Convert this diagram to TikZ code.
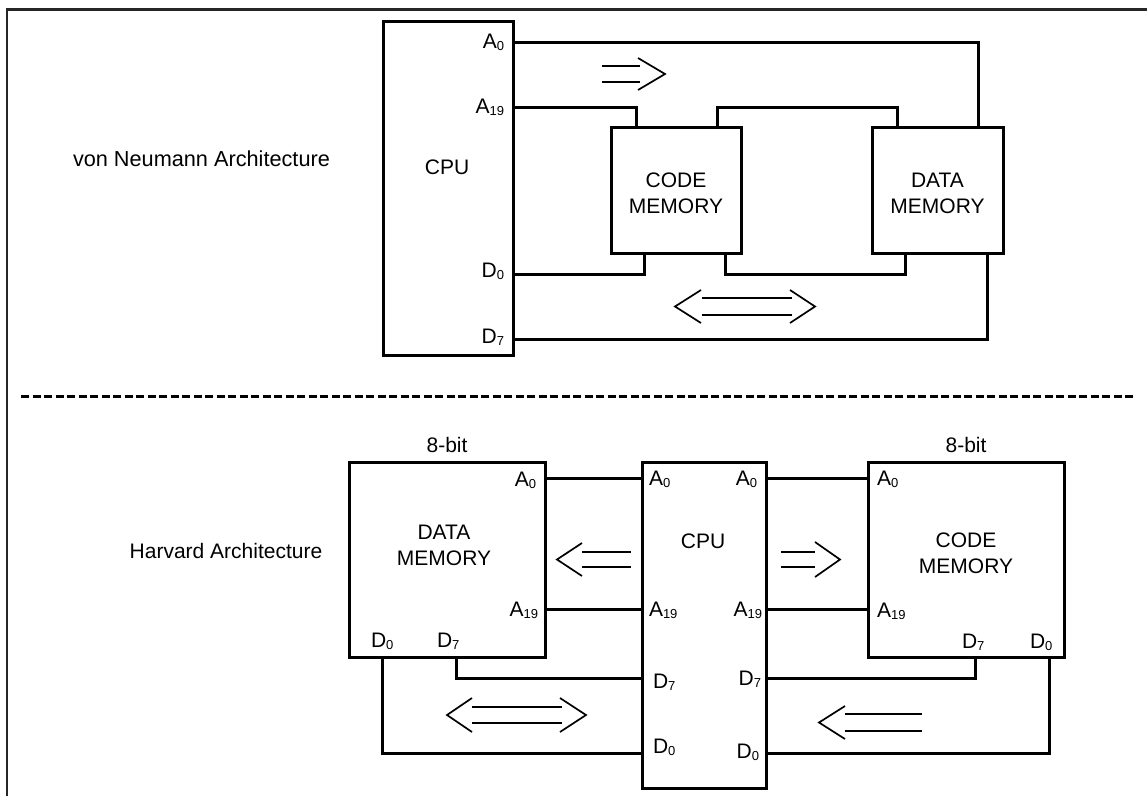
\documentclass[tikz,border=0pt]{standalone}
\usepackage{fontspec}
\setmainfont{Liberation Sans}
\newcommand\pinsub[1]{\raisebox{-2.8pt}{\fontsize{13}{13}\selectfont #1}}
\begin{document}
\begin{tikzpicture}[x=1pt,y=-1pt,
  box/.style={draw=black,line width=3pt,inner sep=0pt,outer sep=0pt},
  txt/.style={inner sep=0pt,outer sep=0pt,font=\fontsize{21}{26}\selectfont,align=center},
  wire/.style={draw=black,line width=3pt,line join=miter},
  arr/.style={draw=black,line width=1.7pt,line join=miter},
  frame/.style={draw=black!85,line width=2.5pt},
  sep/.style={draw=black,line width=3.5pt,dash pattern=on 8pt off 3.5pt}]
\useasboundingbox (0,0) rectangle (1147,796);
% frame and separator
\draw[frame] (1147,9.5) -- (7,9.5) -- (7,796);
\draw[sep] (21,396.5) -- (1134,396.5);

% ---------------- von Neumann ----------------
\node[txt,anchor=base west,font=\fontsize{21.7}{26}\selectfont] (vnlabel) at (73,166) {von Neumann Architecture};
\node[box,minimum width=130pt,minimum height=334pt] (cpu1) at (448,188) {};
\node[txt] (cpu1t) at (447,167) {CPU};
\node[box,minimum width=130pt,minimum height=126pt] (cod1) at (676,190.5) {};
\node[txt] (cod1t) at (676,193) {CODE\\MEMORY};
\node[box,minimum width=131pt,minimum height=126pt] (dat1) at (937.5,190.5) {};
\node[txt] (dat1t) at (937.5,193) {DATA\\MEMORY};

\node[txt,anchor=base east] (l1a0) at (504,48) {A\pinsub{0}};
\node[txt,anchor=base east] (l1a19) at (504,113) {A\pinsub{19}};
\node[txt,anchor=base east] (l1d0) at (504,277) {D\pinsub{0}};
\node[txt,anchor=base east] (l1d7) at (504,343) {D\pinsub{7}};

\coordinate (cpu1A0) at (513,42);
\coordinate (cpu1A19) at (513,107);
\coordinate (cpu1D0) at (513,274);
\coordinate (cpu1D7) at (513,339);
\coordinate (dat1A0) at (978,127.5);
\coordinate (cod1A19) at (636,127.5);
\coordinate (cod1T) at (717,127.5);
\coordinate (dat1T) at (897,127.5);
\coordinate (cod1D0) at (644,253.5);
\coordinate (cod1B) at (725,253.5);
\coordinate (dat1B) at (905,253.5);
\coordinate (dat1D7) at (987,253.5);

\draw[wire] (cpu1A0) -| (dat1A0);
\draw[wire] (cpu1A19) -| (cod1A19);
\draw[wire] (cod1T) -- ++(0,-20.5) -| (dat1T);
\draw[wire] (cpu1D0) -| (cod1D0);
\draw[wire] (cod1B) -- ++(0,20.5) -| (dat1B);
\draw[wire] (cpu1D7) -| (dat1D7);

% arrows (top)
\draw[arr] (602,66) -- (640,66) (602,82) -- (640,82);
\draw[arr] (638,58) -- (665,74) -- (638,90);
\draw[arr] (702,298) -- (792,298) (702,315) -- (792,315);
\draw[arr] (701,290) -- (675,306.5) -- (701,323);
\draw[arr] (790,290) -- (815,306.5) -- (790,323);

% ---------------- Harvard ----------------
\node[txt] (hvlabel) at (226,551) {Harvard Architecture};
\node[box,minimum width=196pt,minimum height=195pt] (dat2) at (447,559.5) {};
\node[txt] (dat2t) at (444,545.5) {DATA\\MEMORY};
\node[box,minimum width=124pt,minimum height=326pt] (cpu2) at (704,625) {};
\node[txt] (cpu2t) at (703,541) {CPU};
\node[box,minimum width=196pt,minimum height=195pt] (cod2) at (966,559.5) {};
\node[txt] (cod2t) at (966,553) {CODE\\MEMORY};
\node[txt] (bitL) at (447,445) {8-bit};
\node[txt] (bitR) at (966,445) {8-bit};

\node[txt,anchor=base east] (l2a0) at (536,486) {A\pinsub{0}};
\node[txt,anchor=base east] (l2a19) at (538,616) {A\pinsub{19}};
\node[txt,anchor=base west] (l2d0) at (371,647) {D\pinsub{0}};
\node[txt,anchor=base west] (l2d7) at (437,647) {D\pinsub{7}};

\node[txt,anchor=base west] (l3a0) at (649,485) {A\pinsub{0}};
\node[txt,anchor=base west] (l3a19) at (649,616) {A\pinsub{19}};
\node[txt,anchor=base west] (l3d7) at (653,688) {D\pinsub{7}};
\node[txt,anchor=base west] (l3d0) at (653,753) {D\pinsub{0}};
\node[txt,anchor=base east] (l4a0) at (757,485) {A\pinsub{0}};
\node[txt,anchor=base east] (l4a19) at (762,616) {A\pinsub{19}};
\node[txt,anchor=base east] (l4d7) at (761,685) {D\pinsub{7}};
\node[txt,anchor=base east] (l4d0) at (759,758) {D\pinsub{0}};

\node[txt,anchor=base west] (l5a0) at (877,485) {A\pinsub{0}};
\node[txt,anchor=base west] (l5a19) at (877,617) {A\pinsub{19}};
\node[txt,anchor=base west] (l5d7) at (962,648) {D\pinsub{7}};
\node[txt,anchor=base west] (l5d0) at (1030,648) {D\pinsub{0}};

\coordinate (dat2A0) at (545,478);
\coordinate (dat2A19) at (545,609);
\coordinate (dat2D7) at (456,657);
\coordinate (dat2D0) at (382,657);
\coordinate (cpu2A0L) at (642,478);
\coordinate (cpu2A19L) at (642,609);
\coordinate (cpu2D7L) at (642,678);
\coordinate (cpu2D0L) at (642,753.5);
\coordinate (cpu2A0R) at (766,478);
\coordinate (cpu2A19R) at (766,609);
\coordinate (cpu2D7R) at (766,678);
\coordinate (cpu2D0R) at (766,753.5);
\coordinate (cod2A0) at (868,478);
\coordinate (cod2A19) at (868,609);
\coordinate (cod2D7) at (975,657);
\coordinate (cod2D0) at (1049,657);

\draw[wire] (dat2A0) -- (cpu2A0L);
\draw[wire] (dat2A19) -- (cpu2A19L);
\draw[wire] (dat2D7) |- (cpu2D7L);
\draw[wire] (dat2D0) |- (cpu2D0L);
\draw[wire] (cpu2A0R) -- (cod2A0);
\draw[wire] (cpu2A19R) -- (cod2A19);
\draw[wire] (cpu2D7R) -| (cod2D7);
\draw[wire] (cpu2D0R) -| (cod2D0);

% arrows (bottom)
\draw[arr] (582,552) -- (631,552) (582,567) -- (631,567);
\draw[arr] (582,543) -- (557,559.5) -- (582,576);
\draw[arr] (472,707) -- (562,707) (472,723) -- (562,723);
\draw[arr] (472,698) -- (447,715) -- (472,732);
\draw[arr] (560,698) -- (586,715) -- (560,732);
\draw[arr] (781,552) -- (815,552) (781,567) -- (815,567);
\draw[arr] (815,542) -- (840,559.5) -- (815,577);
\draw[arr] (845,714) -- (922,714) (845,731) -- (922,731);
\draw[arr] (845,706) -- (819,722.5) -- (845,739);
\end{tikzpicture}
\end{document}
